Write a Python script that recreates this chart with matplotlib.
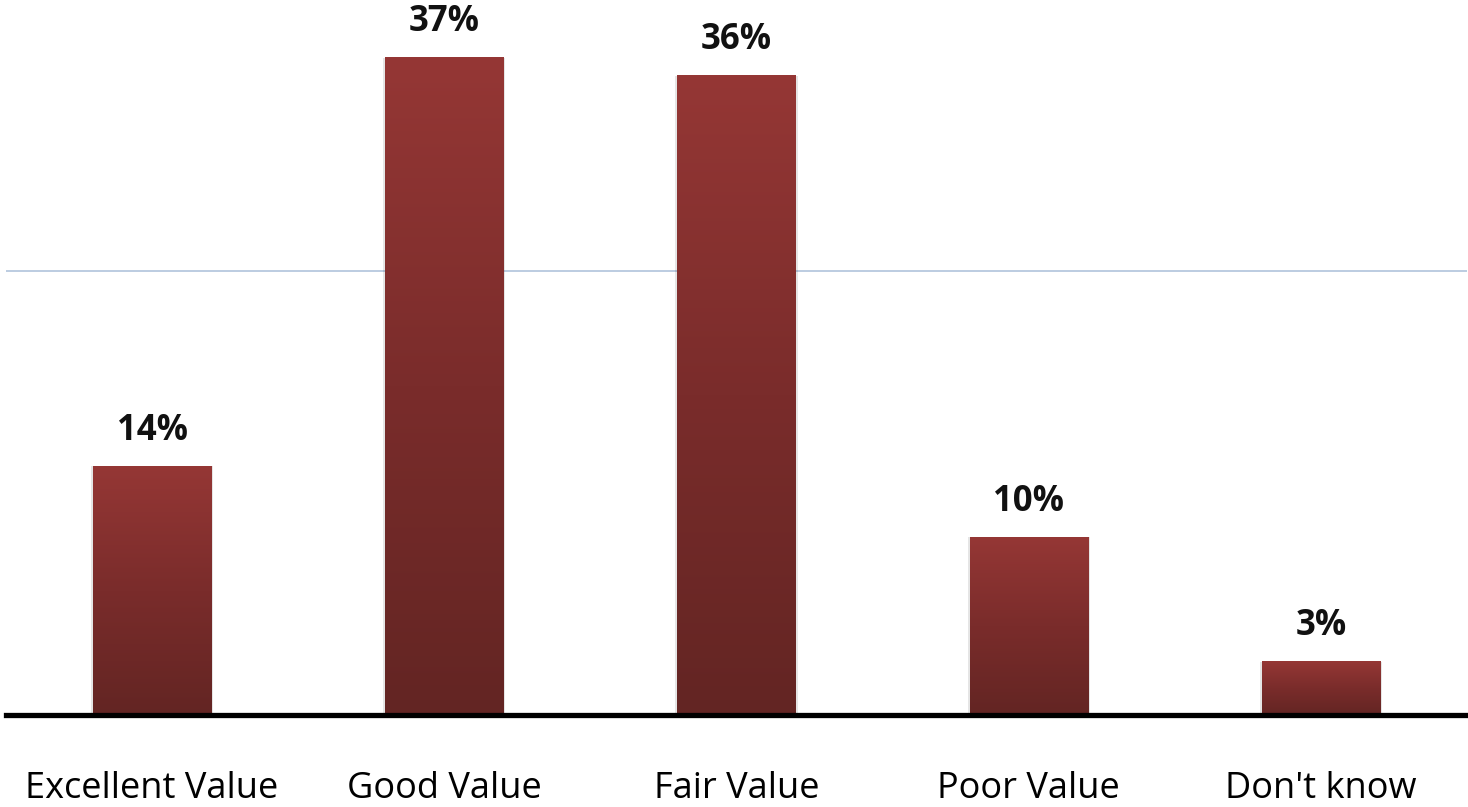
import numpy as np
import matplotlib.pyplot as plt
from matplotlib.colors import LinearSegmentedColormap

categories = ["Excellent Value", "Good Value", "Fair Value", "Poor Value", "Don't know"]
values = [14, 37, 36, 10, 3]
labels = ["14%", "37%", "36%", "10%", "3%"]

fig = plt.figure(figsize=(14.68, 8.07), dpi=100)
ax = fig.add_axes([6 / 1468, 92 / 807, 1461 / 1468, 715 / 807])

cmap = LinearSegmentedColormap.from_list("bar", ["#632523", "#7a2c2b", "#953735"])
grad = np.linspace(0, 1, 256).reshape(-1, 1)

x = np.arange(len(categories))
width = 0.404
bars = ax.bar(x, values, width=width, color="none", edgecolor="none", zorder=3)
for b in bars:
    x0, w, h = b.get_x(), b.get_width(), b.get_height()
    # soft shadow
    ax.bar(x0 + w / 2, h, width=w + 0.014, color="#000000", alpha=0.1, zorder=2)
    ax.imshow(grad, extent=(x0, x0 + w, 0, h), origin="lower", cmap=cmap,
              aspect="auto", zorder=3)

for xi, v, lab in zip(x, values, labels):
    ax.text(xi, v + 1.0, lab, ha="center", va="bottom", fontsize=25,
            fontweight="bold", family="Open Sans", color="#111111")

ax.axhline(25, color="#7d9cc4", lw=1.2, alpha=0.6, zorder=1)
ax.axhline(0, color="black", lw=3.8, zorder=4, clip_on=False)

ax.set_xlim(-0.5, len(categories) - 0.5)
ax.set_ylim(0, 40.26)
ax.set_xticks(x)
ax.set_xticklabels(categories, fontsize=26, family="Open Sans")
ax.tick_params(axis="x", length=0, pad=40)
ax.set_yticks([])
for s in ax.spines.values():
    s.set_visible(False)

fig.savefig("out.png", dpi=100)
